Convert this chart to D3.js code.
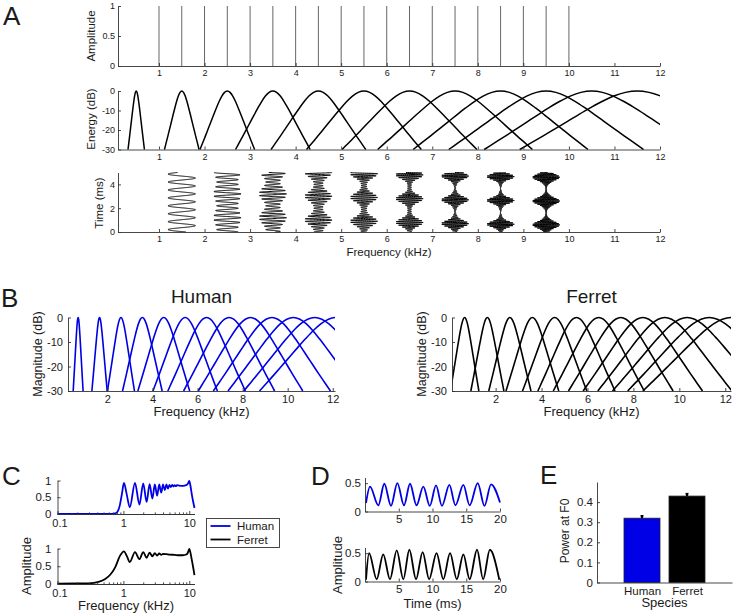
<!DOCTYPE html>
<html><head><meta charset="utf-8">
<script src="https://cdn.jsdelivr.net/npm/d3@7"></script>
<style>
body{margin:0;background:#fff}
svg text{font-family:"Liberation Sans",Arial,Helvetica,sans-serif;fill:#1a1a1a}
</style>
</head><body>
<svg id="fig" width="733" height="615" viewBox="0 0 733 615"></svg>
<script>
// ---------------- DATA ----------------
// Panel A: harmonic complex (kHz) and amplitudes
const harmonics = [1,1.5,2,2.5,3,3.5,4,4.5,5,5.5,6,6.5,7,7.5,8,8.5,9,9.5,10];
const harmonicAmp = [1,1,1,1,1,1,1,1,1,1,1,1,1,1,1,1,1,1,1];
const freqTicksA = [1,2,3,4,5,6,7,8,9,10,11,12];
// Panel A filter bank: centre freqs (kHz) and half-width at -30 dB (kHz)
const filterCFsA = [0.5,1.5,2.5,3.5,4.5,5.5,6.5,7.5,8.5,9.5,10.5,11.5];
const filterHWA  = [0.18,0.38,0.6,0.82,1.04,1.26,1.48,1.7,1.92,2.14,2.36,2.58];
// filter shape profile: normalised offset -> dB
const profileU  = [0,0.1,0.2,0.3,0.4,0.5,0.6,0.7,0.8,0.9,1.0];
const profileDb = [0,-0.7,-2.6,-5.4,-8.7,-12.2,-15.8,-19.4,-23,-26.5,-30];
// Panel A bottom: filters whose outputs are shown, and their envelope delay (ms)
const waveformCFs    = [1.5,2.5,3.5,4.5,5.5,6.5,7.5,8.5,9.5];
const waveformDelays = [1.2,1.2,1.2,1.0,0.9,0.8,0.7,0.65,0.6];

// Panel B
const bCFsHuman  = [0.7,1.65,2.6,3.55,4.5,5.45,6.4,7.4,8.35,9.3,10.25,11.2,12.15];
const bHWHuman   = [0.22,0.34,0.6,0.88,1.15,1.43,1.72,2.02,2.32,2.6,2.9,3.15,3.4];
const bCFsFerret = [0.65,1.64,2.62,3.6,4.57,5.52,6.49,7.45,8.41,9.37,10.34,11.3,12.26];
const bHWFerret  = [0.62,0.72,0.92,1.15,1.4,1.68,1.98,2.28,2.6,2.92,3.25,3.55,3.85];
const freqTicksB = [2,4,6,8,10,12];
const dbTicks = [-30,-20,-10,0];

// Panel C: spectral profile (freq kHz, amplitude)
const cHumanFreq = [0.1,0.3,0.6,0.72,0.8,0.88,0.95,1.02,1.12,1.25,1.5,1.75,2.0,2.25,2.5,2.75,3.0,3.25,3.5,3.75,4.0,4.25,4.5,4.75,5.0,5.25,5.5,5.75,6.0,6.25,6.5,7,8,9,9.5,10,10.4,11,11.5,12];
const cHumanAmp  = [0,0,0,0.01,0.05,0.25,0.6,0.93,0.6,0.2,0.93,0.28,0.91,0.36,0.89,0.46,0.88,0.55,0.88,0.64,0.88,0.71,0.88,0.76,0.87,0.8,0.87,0.82,0.86,0.83,0.86,0.85,0.84,0.86,0.9,0.99,0.85,0.55,0.35,0.18];
const cFerretFreq = [0.1,0.2,0.3,0.42,0.53,0.63,0.75,0.89,1.02,1.12,1.25,1.5,1.75,2.0,2.25,2.5,2.75,3.0,3.25,3.5,3.75,4.0,4.5,5,6,7,8,9,9.5,10,10.5,11,11.5,12];
const cFerretAmp  = [0.01,0.015,0.02,0.06,0.14,0.26,0.47,0.8,0.92,0.8,0.62,0.9,0.7,0.9,0.74,0.88,0.78,0.87,0.8,0.86,0.82,0.85,0.84,0.83,0.82,0.81,0.81,0.83,0.88,0.99,0.85,0.65,0.45,0.25];
const cTicks = [0.1,1,10];
const cMinorTicks = [0.2,0.3,0.4,0.5,0.6,0.7,0.8,0.9,2,3,4,5,6,7,8,9];

// Panel D: temporal output (time ms, amplitude)
const dHumanTime = [0.15,0.74,1.98,2.86,3.85,4.79,5.78,6.67,7.63,8.64,9.6,10.52,11.4,12.5,13.4,14.57,15.5,16.7,17.7,18.67,20];
const dHumanAmp  = [0.15,0.44,0.11,0.49,0.10,0.50,0.11,0.49,0.11,0.44,0.10,0.46,0.10,0.47,0.11,0.47,0.11,0.50,0.10,0.48,0.16];
const dFerretTime = [0.15,0.6,1.73,2.7,3.7,4.7,5.68,6.57,7.56,8.54,9.5,10.6,11.6,12.6,13.6,14.57,15.5,16.6,17.5,18.5,19.9];
const dFerretAmp  = [0.03,0.50,0.04,0.48,0.04,0.55,0.04,0.56,0.04,0.52,0.04,0.50,0.04,0.50,0.04,0.48,0.04,0.56,0.04,0.56,0.03];
const dTimeTicks = [5,10,15,20];
const dAmpTicks = [0,0.5];

// Panel E: power at F0
const species = ["Human","Ferret"];
const powerF0 = [0.32,0.43];
const powerErr = [0.012,0.012];
const eTicks = [0,0.1,0.2,0.3,0.4];

// ---------------- DRAWING ----------------
const svg = d3.select("#fig");
const BLUE = "#0000e6", AX = "#333";

function styleAxis(g, fs){
  g.selectAll(".domain").attr("stroke", AX).attr("stroke-width", 0.9);
  g.selectAll(".tick line").attr("stroke", AX).attr("stroke-width", 0.9);
  g.selectAll(".tick text").attr("fill","#222").style("font-size", fs+"px")
   .style("font-family",'"Liberation Sans",Arial,sans-serif');
}
function xAxis(scale, y, ticks, fs, fmt, pad, size){
  const ax = d3.axisBottom(scale).tickValues(ticks).tickSize(size===undefined?-3:size).tickSizeOuter(0).tickPadding(pad||4);
  ax.tickFormat(fmt || (d=>String(d)));
  const g = svg.append("g").attr("transform",`translate(0,${y})`).call(ax);
  styleAxis(g, fs); return g;
}
function yAxis(scale, x, ticks, fs, fmt, pad){
  const ax = d3.axisLeft(scale).tickValues(ticks).tickSize(-3).tickSizeOuter(0).tickPadding(pad||3);
  ax.tickFormat(fmt || (d=>String(d)));
  const g = svg.append("g").attr("transform",`translate(${x},0)`).call(ax);
  styleAxis(g, fs); return g;
}
function text(t, x, y, fs, opts){
  opts = opts || {};
  const el = svg.append("text").text(t).style("font-size", fs+"px")
    .attr("text-anchor", opts.anchor || "middle");
  if (opts.rotate) el.attr("transform",`translate(${x},${y}) rotate(-90)`);
  else el.attr("x", x).attr("y", y);
  return el;
}
function clip(id, x0, y0, x1, y1){
  svg.append("clipPath").attr("id", id).append("rect")
    .attr("x", x0).attr("y", y0).attr("width", x1-x0).attr("height", y1-y0);
  return `url(#${id})`;
}
function filterPoints(cf, hw){
  const pts = [];
  for (let j = profileU.length-1; j > 0; j--) pts.push([cf - profileU[j]*hw, profileDb[j]]);
  for (let j = 0; j < profileU.length; j++) pts.push([cf + profileU[j]*hw, profileDb[j]]);
  return pts;
}
const profile = d3.scaleLinear().domain(profileU).range(profileDb).clamp(true);

// ===== Panel A =====
text("A", 3, 25, 26, {anchor:"start"});
const xA = d3.scaleLinear().domain([0.1,12]).range([118,660]);
// top: harmonic amplitudes
const yAmp = d3.scaleLinear().domain([0,1]).range([66,6]);
svg.append("g").selectAll("line").data(harmonics).join("line")
  .attr("x1", d=>xA(d)).attr("x2", d=>xA(d))
  .attr("y1", yAmp(0)).attr("y2", (d,i)=>yAmp(harmonicAmp[i]))
  .attr("stroke","#666").attr("stroke-width",1);
xAxis(xA, 66, freqTicksA, 9, null, 4);
yAxis(yAmp, 118, [0,0.5,1], 9);
text("Amplitude", 0, 0, 11.5, {rotate:true}).attr("transform","translate(95,36) rotate(-90)");

// middle: filter energies
const yEn = d3.scaleLinear().domain([-30,0]).range([149.5,91]);
const clipA = clip("clipA", 118, 80, 660, 152);
const lineA = d3.line().x(d=>xA(d[0])).y(d=>yEn(d[1])).curve(d3.curveMonotoneX);
svg.append("g").attr("clip-path", clipA).selectAll("path").data(filterCFsA).join("path")
  .attr("d", (d,i)=>lineA(filterPoints(d, filterHWA[i])))
  .attr("fill","none").attr("stroke","#000").attr("stroke-width",1.5);
xAxis(xA, 149.5, freqTicksA, 9, null, 4);
yAxis(yEn, 118, dbTicks, 9);
text("Energy (dB)", 0, 0, 11.5, {rotate:true}).attr("transform","translate(95,119) rotate(-90)");

// bottom: filter output waveforms (time vertical)
const yT = d3.scaleLinear().domain([0,5]).range([232,172.5]);
const tGrid = d3.range(0, 5.0001, 0.004);
const lineW = d3.line().x(d=>d[0]).y(d=>d[1]);
waveformCFs.forEach((cf, k)=>{
  const hw = filterHWA[filterCFsA.indexOf(cf)];
  const tau = waveformDelays[k];
  const comps = harmonics.map((h,i)=>{
    const u = Math.abs(h-cf)/hw;
    return u < 1 ? [h, harmonicAmp[i]*Math.pow(10, profile(u)/20)] : null;
  }).filter(c=>c);
  const sig = tGrid.map(t=>d3.sum(comps, c=>c[1]*Math.cos(2*Math.PI*c[0]*(t-tau))));
  const mx = d3.max(sig, v=>Math.abs(v));
  const pts = tGrid.map((t,i)=>[xA(cf + 0.3*sig[i]/mx), yT(t)]);
  svg.append("path").attr("d", lineW(pts)).attr("fill","none")
    .attr("stroke","#000").attr("stroke-width",1);
});
xAxis(xA, 232, freqTicksA, 9, null, 4);
yAxis(yT, 118, [0,2,4], 9);
text("Time (ms)", 0, 0, 11.5, {rotate:true}).attr("transform","translate(103,203) rotate(-90)");
text("Frequency (kHz)", 389, 256, 11.5);

// ===== Panel B =====
text("B", 1, 307, 26, {anchor:"start"});
function panelB(xs, cfs, hws, color, cid, title, labelX){
  const yB = d3.scaleLinear().domain([-30,0]).range([391,317.5]);
  const [r0, r1] = xs.range();
  const cp = clip(cid, r0, 300, r1, 393);
  const ln = d3.line().x(d=>xs(d[0])).y(d=>yB(d[1])).curve(d3.curveMonotoneX);
  svg.append("g").attr("clip-path", cp).selectAll("path").data(cfs).join("path")
    .attr("d",(d,i)=>ln(filterPoints(d, hws[i])))
    .attr("fill","none").attr("stroke",color).attr("stroke-width",1.6);
  xAxis(xs, 391, freqTicksB, 11, null, 4);
  yAxis(yB, r0, dbTicks, 11, null, 5);
  text(title, (r0+r1)/2, 303, 19);
  text("Frequency (kHz)", (r0+r1)/2, 416, 13);
  text("Magnitude (dB)", 0, 0, 12.5, {rotate:true}).attr("transform",`translate(${labelX},354) rotate(-90)`);
}
const xBH = d3.scaleLinear().domain([0.25,12.1]).range([68,335]);
const xBF = d3.scaleLinear().domain([0.1,12.25]).range([452,731]);
panelB(xBH, bCFsHuman, bHWHuman, BLUE, "clipBH", "Human", 42);
panelB(xBF, bCFsFerret, bHWFerret, "#000", "clipBF", "Ferret", 426);

// ===== Panel C =====
text("C", 2, 485, 26, {anchor:"start"});
const xC = d3.scaleLog().domain([0.1,12]).range([57.5,194.5]);
function panelC(yTop, yBot, fr, am, color){
  const yC = d3.scaleLinear().domain([0,1]).range([yBot, yTop]);
  const ln = d3.line().x((d,i)=>xC(fr[i])).y((d,i)=>yC(am[i])).curve(d3.curveMonotoneX);
  svg.append("path").attr("d", ln(fr)).attr("fill","none").attr("stroke",color).attr("stroke-width",1.8);
  xAxis(xC, yBot, cMinorTicks, 11, ()=>"", 0, -1.6);
  const gx = xAxis(xC, yBot, cTicks, 11, d=>d===0.1?"0.1":String(d), 5);
  gx.selectAll(".tick text").filter(d=>d===0.1).attr("dx", 2);
  yAxis(yC, 57.5, [0,0.5,1], 11.5, null, 6);
}
panelC(480.5, 514, cHumanFreq, cHumanAmp, BLUE);
panelC(548.5, 584, cFerretFreq, cFerretAmp, "#000");
text("Amplitude", 0, 0, 13, {rotate:true}).attr("transform","translate(31,566) rotate(-90)");
text("Frequency (kHz)", 126, 610, 13);
// legend
const lg = svg.append("g");
lg.append("rect").attr("x",206.5).attr("y",518.5).attr("width",73).attr("height",29)
  .attr("fill","#fff").attr("stroke",AX).attr("stroke-width",0.9);
[[species[0], BLUE, 526],[species[1], "#000", 539.5]].forEach(([nm,c,y])=>{
  lg.append("line").attr("x1",210.5).attr("x2",230.5).attr("y1",y).attr("y2",y).attr("stroke",c).attr("stroke-width",1.8);
  lg.append("text").text(nm).attr("x",237).attr("y",y+4).style("font-size","11.5px");
});

// ===== Panel D =====
text("D", 311, 485, 26, {anchor:"start"});
const xD = d3.scaleLinear().domain([0,20]).range([365,500]);
function panelD(yTop, yBot, tt, aa, color){
  const yD = d3.scaleLinear().domain([0,0.6]).range([yBot, yTop]);
  const ln = d3.line().x((d,i)=>xD(tt[i])).y((d,i)=>yD(aa[i])).curve(d3.curveMonotoneX);
  svg.append("path").attr("d", ln(tt)).attr("fill","none").attr("stroke",color).attr("stroke-width",1.8);
  xAxis(xD, yBot, dTimeTicks, 11.5, null, 3);
  yAxis(yD, 365, dAmpTicks, 11.5, null, 4);
}
panelD(477.5, 511.5, dHumanTime, dHumanAmp, BLUE);
panelD(547.5, 581.5, dFerretTime, dFerretAmp, "#000");
text("Amplitude", 0, 0, 13, {rotate:true}).attr("transform","translate(342,565) rotate(-90)");
text("Time (ms)", 432.5, 608, 13);

// ===== Panel E =====
text("E", 540, 484, 26, {anchor:"start"});
const xE = d3.scaleLinear().domain([0,3]).range([597,732]);
const yE = d3.scaleLinear().domain([0,0.5]).range([582.5,482]);
const barCol = [BLUE, "#000"];
svg.append("g").selectAll("rect").data(powerF0).join("rect")
  .attr("x",(d,i)=>xE(i+1-0.4)).attr("width", xE(0.8)-xE(0))
  .attr("y", d=>yE(d)).attr("height", d=>yE(0)-yE(d))
  .attr("fill",(d,i)=>barCol[i]).attr("stroke","#222").attr("stroke-width",0.8);
svg.append("g").selectAll("line").data(powerF0).join("line")
  .attr("x1",(d,i)=>xE(i+1)).attr("x2",(d,i)=>xE(i+1))
  .attr("y1",d=>yE(d)).attr("y2",(d,i)=>yE(d+powerErr[i]))
  .attr("stroke","#000").attr("stroke-width",2.2);
svg.append("g").selectAll("line").data(powerF0).join("line")
  .attr("x1",(d,i)=>xE(i+1)-1.5).attr("x2",(d,i)=>xE(i+1)+1.5)
  .attr("y1",(d,i)=>yE(d+powerErr[i])).attr("y2",(d,i)=>yE(d+powerErr[i]))
  .attr("stroke","#000").attr("stroke-width",1.5);
xAxis(xE, 582.5, [1,2], 11.5, (d,i)=>species[i], 4, 0);
yAxis(yE, 597, eTicks, 11.5, null, 4);
text("Power at F0", 0, 0, 12, {rotate:true}).attr("transform","translate(569,531) rotate(-90)");
text("Species", 664.5, 607, 13);
</script>
</body></html>
